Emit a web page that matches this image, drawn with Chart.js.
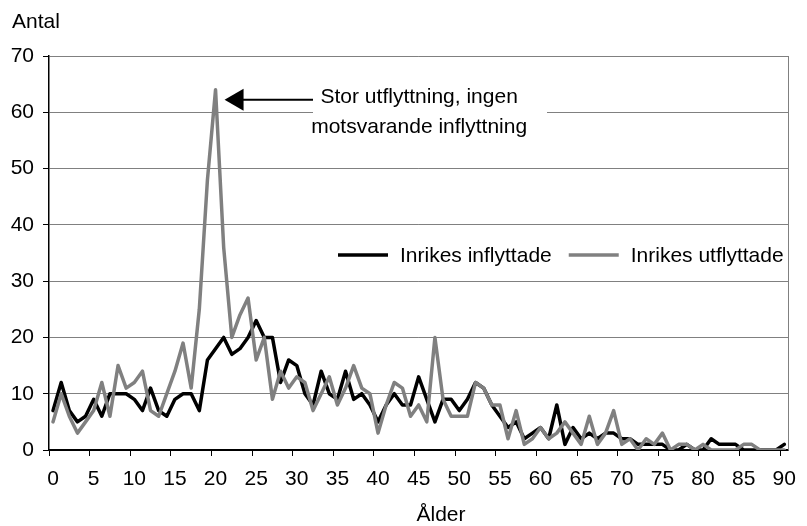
<!DOCTYPE html>
<html><head><meta charset="utf-8">
<script src="https://cdn.jsdelivr.net/npm/chart.js@4.4.1/dist/chart.umd.min.js"></script>
<style>html,body{margin:0;padding:0;background:#fff;}canvas{display:block}</style>
</head><body>
<canvas id="c" width="807" height="526"></canvas>
<script>
const ages = ['0','1','2','3','4','5','6','7','8','9','10','11','12','13','14','15','16','17','18','19','20','21','22','23','24','25','26','27','28','29','30','31','32','33','34','35','36','37','38','39','40','41','42','43','44','45','46','47','48','49','50','51','52','53','54','55','56','57','58','59','60','61','62','63','64','65','66','67','68','69','70','71','72','73','74','75','76','77','78','79','80','81','82','83','84','85','86','87','88','89','90'];
const tickLabels = ['0','5','10','15','20','25','30','35','40','45','50','55','60','65','70','75','80','85','90'];
const inflyttade = [7,12,7,5,6,9,6,10,10,10,9,7,11,7,6,9,10,10,7,16,18,20,17,18,20,23,20,20,12,16,15,10,8,14,10,9,14,9,10,8,5,8,10,8,8,13,9,5,9,9,7,9,12,11,8,6,4,5,2,3,4,2,8,1,4,2,3,2,3,3,2,2,1,1,1,1,0,0,1,0,0,2,1,1,1,0,0,0,0,0,1];
const utflyttade = [5,10,6,3,5,7,12,6,15,11,12,14,7,6,10,14,19,11,25,48,64,36,20,24,27,16,20,9,14,11,13,12,7,10,13,8,11,15,11,10,3,8,12,11,6,8,5,20,9,6,6,6,12,11,8,8,2,7,1,2,4,2,3,5,3,1,6,1,3,7,1,2,0,2,1,3,0,1,1,0,1,0,0,0,0,1,1,0,0,0,0];
const seriesNames = ['Inrikes inflyttade','Inrikes utflyttade'];
const yTicks = [0,10,20,30,40,50,60,70];
const yTitle = 'Antal';
const xTitle = 'Ålder';
const noteLines = ['Stor utflyttning, ingen','motsvarande inflyttning'];

const FONT = '"Liberation Sans", Arial, sans-serif';
const FS = 21;
const colors = ['#000000','#808080'];

const decor = {
  id: 'decor',
  beforeDatasetsDraw(chart) {
    const {ctx, chartArea: a} = chart;
    ctx.save();
    ctx.strokeStyle = '#808080';
    ctx.lineWidth = 1;
    ctx.beginPath();
    ctx.moveTo(Math.round(a.right) + 0.5, a.top);
    ctx.lineTo(Math.round(a.right) + 0.5, a.bottom);
    ctx.stroke();
    ctx.restore();
  },
  afterDatasetsDraw(chart) {
    const {ctx, chartArea: a, scales: {x, y}} = chart;
    ctx.save();
    ctx.font = FS + 'px ' + FONT;
    ctx.fillStyle = '#000';
    // axis titles
    ctx.textBaseline = 'alphabetic';
    ctx.textAlign = 'left';
    ctx.fillText(yTitle, 12, 28);
    ctx.textAlign = 'center';
    ctx.fillText(xTitle, 441, 521);

    // legend
    const ly = 255;
    let lx = 338;
    ctx.textAlign = 'left';
    ctx.textBaseline = 'middle';
    seriesNames.forEach((name, i) => {
      ctx.strokeStyle = colors[i];
      ctx.lineWidth = 3.5;
      ctx.beginPath();
      ctx.moveTo(lx, ly);
      ctx.lineTo(lx + 50, ly);
      ctx.stroke();
      ctx.fillStyle = '#000';
      ctx.fillText(name, lx + 62, ly + 1);
      lx = lx + 62 + ctx.measureText(name).width + 17;
    });

    // annotation
    const peakVal = Math.max(...utflyttade);
    const peakIdx = utflyttade.indexOf(peakVal);
    const tipX = x.getPixelForValue(peakIdx) + 9;
    const tipY = y.getPixelForValue(peakVal) + 10;
    const cx = x.getPixelForValue(45) + 0.5;
    const boxL = 313, boxR = 547;
    ctx.fillStyle = '#fff';
    ctx.fillRect(boxL, 80, boxR - boxL, 62);
    ctx.strokeStyle = '#000';
    ctx.lineWidth = 2;
    ctx.beginPath();
    ctx.moveTo(boxL, tipY);
    ctx.lineTo(tipX + 18, tipY);
    ctx.stroke();
    ctx.fillStyle = '#000';
    ctx.beginPath();
    ctx.moveTo(tipX, tipY);
    ctx.lineTo(tipX + 19, tipY - 11);
    ctx.lineTo(tipX + 19, tipY + 11);
    ctx.closePath();
    ctx.fill();
    ctx.textAlign = 'center';
    ctx.textBaseline = 'alphabetic';
    ctx.fillText(noteLines[0], cx, 103);
    ctx.fillText(noteLines[1], cx, 133);
    ctx.restore();
  }
};

new Chart(document.getElementById('c'), {
  type: 'line',
  data: {
    labels: ages,
    datasets: [
      {label: seriesNames[0], data: inflyttade, borderColor: colors[0], borderWidth: 3.5, pointRadius: 0, tension: 0, order: 1, borderJoinStyle: 'round', borderCapStyle: 'round', fill: false},
      {label: seriesNames[1], data: utflyttade, borderColor: colors[1], borderWidth: 3.5, pointRadius: 0, tension: 0, order: 0, borderJoinStyle: 'round', borderCapStyle: 'round', fill: false}
    ]
  },
  options: {
    responsive: false,
    animation: false,
    devicePixelRatio: 1,
    layout: {padding: {top: 56, right: 10, left: 0, bottom: 0}},
    plugins: {legend: {display: false}, tooltip: {enabled: false}, title: {display: false}},
    scales: {
      x: {
        type: 'category',
        offset: true,
        grid: {
          offset: true,
          drawOnChartArea: false,
          drawTicks: true,
          tickLength: 6,
          tickWidth: 1,
          tickColor: ctx => (ctx.index % 5 === 0 && ctx.index < ages.length) ? '#000' : 'rgba(0,0,0,0)'
        },
        border: {display: true, color: '#000', width: 1.5},
        ticks: {
          autoSkip: false, maxRotation: 0, minRotation: 0, padding: 11, color: '#000',
          font: {family: FONT, size: FS},
          callback: (v, i) => tickLabels.includes(ages[i]) ? ages[i] : ''
        },
        afterFit: s => { s.height = 76; }
      },
      y: {
        min: 0, max: 70,
        afterBuildTicks: s => { s.ticks = yTicks.map(v => ({value: v})); },
        grid: {
          color: ctx => ctx.tick && ctx.tick.value === 0 ? '#000' : '#808080',
          lineWidth: 1,
          drawTicks: true, tickLength: 6, tickColor: '#000'
        },
        border: {display: true, color: '#000', width: 1.5},
        ticks: {padding: 9, color: '#000', font: {family: FONT, size: FS}},
        afterFit: s => { s.width = 49; }
      }
    }
  },
  plugins: [decor]
});
</script>
</body></html>
